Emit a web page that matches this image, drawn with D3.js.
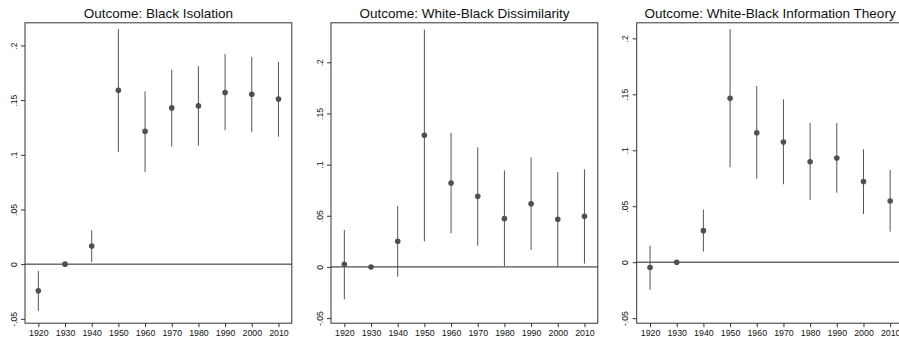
<!DOCTYPE html>
<html>
<head>
<meta charset="utf-8">
<script src="https://cdnjs.cloudflare.com/ajax/libs/d3/7.8.5/d3.min.js"></script>
<style>
  body { margin: 0; background: #fff; }
  svg { display: block; font-family: "Liberation Sans", Arial, Helvetica, sans-serif; }
</style>
</head>
<body>
<div id="chart"></div>
<script>
// decades on the x axis (1930 is the omitted reference year)
const years = [1920, 1930, 1940, 1950, 1960, 1970, 1980, 1990, 2000, 2010];
const yTicks = [-0.05, 0, 0.05, 0.1, 0.15, 0.2];
const yTickLabels = ["-.05", "0", ".05", ".1", ".15", ".2"];

// Panel 1: Black isolation
const isoEst  = [-0.0244, 0, 0.0165, 0.159, 0.1215, 0.1429, 0.1447, 0.157, 0.1554, 0.151];
const isoLow  = [-0.0428, 0, 0.0018, 0.1026, 0.0842, 0.1074, 0.1083, 0.1224, 0.1206, 0.1166];
const isoHigh = [-0.0061, 0, 0.031, 0.215, 0.158, 0.178, 0.181, 0.192, 0.1896, 0.185];

// Panel 2: White-Black dissimilarity
const dissEst  = [0.0026, 0, 0.0251, 0.1286, 0.082, 0.069, 0.0472, 0.0618, 0.0466, 0.0495];
const dissLow  = [-0.0316, 0, -0.0095, 0.0251, 0.0329, 0.0208, 0.0005, 0.0166, 0.0003, 0.0032];
const dissHigh = [0.0361, 0, 0.0596, 0.232, 0.1311, 0.1169, 0.0944, 0.107, 0.0928, 0.0954];

// Panel 3: White-Black information theory
const infoEst  = [-0.0048, 0, 0.0282, 0.1464, 0.1157, 0.1074, 0.0898, 0.0931, 0.072, 0.0547];
const infoLow  = [-0.0245, 0, 0.0095, 0.0848, 0.0746, 0.0696, 0.0556, 0.0621, 0.0431, 0.0273];
const infoHigh = [0.0148, 0, 0.047, 0.2083, 0.1574, 0.1455, 0.1244, 0.1244, 0.1009, 0.0824];

// axis ranges as they appear in each panel
const isoRange  = [-0.054, 0.2207];
const dissRange = [-0.055, 0.2386];
const infoRange = [-0.0545, 0.2139];
const xRange = [1915, 2015];

const panels = [
  { title: "Outcome: Black Isolation", est: isoEst, low: isoLow, high: isoHigh, yr: isoRange, left: 25 },
  { title: "Outcome: White-Black Dissimilarity", est: dissEst, low: dissLow, high: dissHigh, yr: dissRange, left: 331 },
  { title: "Outcome: White-Black Information Theory", est: infoEst, low: infoLow, high: infoHigh, yr: infoRange, left: 636.7 }
];

const W = 899, H = 343;
const panelW = 266.8, plotTop = 22.8, plotBottom = 323.2;

const svg = d3.select("#chart").append("svg")
    .attr("width", W)
    .attr("height", H);

panels.forEach(p => {
    const x = d3.scaleLinear().domain(xRange).range([p.left, p.left + panelW]);
    const y = d3.scaleLinear().domain(p.yr).range([plotBottom, plotTop]);
    const g = svg.append("g");

    // title
    g.append("text")
        .attr("x", p.left + panelW / 2)
        .attr("y", 17.5)
        .attr("text-anchor", "middle")
        .attr("font-size", 13.5)
        .attr("fill", "#111")
        .text(p.title);

    // frame
    g.append("rect")
        .attr("x", p.left)
        .attr("y", plotTop)
        .attr("width", panelW)
        .attr("height", plotBottom - plotTop)
        .attr("fill", "none")
        .attr("stroke", "#333")
        .attr("stroke-width", 1);

    // x axis
    const xAxis = d3.axisBottom(x)
        .tickValues(years)
        .tickFormat(d3.format("d"))
        .tickSize(4)
        .tickPadding(3);
    const xg = g.append("g")
        .attr("transform", `translate(0,${plotBottom})`)
        .call(xAxis);
    xg.select(".domain").remove();
    xg.selectAll("line").attr("stroke", "#333");
    xg.selectAll("text")
        .attr("font-size", 8.8)
        .attr("fill", "#111")
        .attr("font-family", "Liberation Sans, Arial, sans-serif");

    // y axis with rotated labels
    const yAxis = d3.axisLeft(y)
        .tickValues(yTicks)
        .tickFormat((d, i) => yTickLabels[i])
        .tickSize(4);
    const yg = g.append("g")
        .attr("transform", `translate(${p.left},0)`)
        .call(yAxis);
    yg.select(".domain").remove();
    yg.selectAll("line").attr("stroke", "#333");
    yg.selectAll("text")
        .attr("font-size", 8.6)
        .attr("fill", "#111")
        .attr("font-family", "Liberation Sans, Arial, sans-serif")
        .attr("x", null)
        .attr("dy", null)
        .attr("text-anchor", "middle")
        .attr("transform", "translate(-8.5,0) rotate(-90)");

    // zero reference line
    g.append("line")
        .attr("x1", p.left)
        .attr("x2", p.left + panelW)
        .attr("y1", y(0))
        .attr("y2", y(0))
        .attr("stroke", "#222")
        .attr("stroke-width", 1);

    // confidence intervals
    g.selectAll(".ci")
        .data(years)
        .enter()
        .append("line")
        .attr("class", "ci")
        .attr("x1", d => x(d))
        .attr("x2", d => x(d))
        .attr("y1", (d, i) => y(p.low[i]))
        .attr("y2", (d, i) => y(p.high[i]))
        .attr("stroke", "#555")
        .attr("stroke-width", 1);

    // point estimates
    g.selectAll(".pt")
        .data(years)
        .enter()
        .append("circle")
        .attr("class", "pt")
        .attr("cx", d => x(d))
        .attr("cy", (d, i) => y(p.est[i]))
        .attr("r", 2.8)
        .attr("fill", "#505050");
});
</script>
</body>
</html>
